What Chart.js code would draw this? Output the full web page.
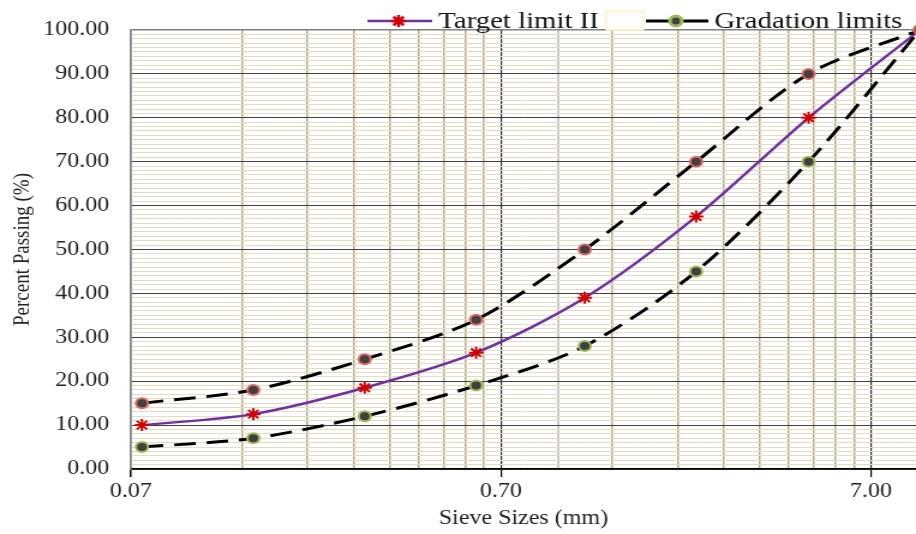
<!DOCTYPE html>
<html>
<head>
<meta charset="utf-8">
<script src="https://cdn.jsdelivr.net/npm/chart.js@4.4.0/dist/chart.umd.min.js"></script>
<style>
html, body { margin: 0; padding: 0; background: #fff; overflow: hidden; }
#grading { display: block; }
</style>
</head>
<body>
<!-- the original picture is stretched sideways, so the canvas is too -->
<canvas id="grading" width="763" height="534" style="width:916px;height:534px"></canvas>
<script>
// sieve sizes (mm) and percent passing
var sieveSizes = [0.075, 0.15, 0.3, 0.6, 1.18, 2.36, 4.75, 9.5];
var upperLimit = [15, 18, 25, 34, 50, 70, 90, 100];
var lowerLimit = [5, 7, 12, 19, 28, 45, 70, 100];
var targetLimit = [10, 12.5, 18.5, 26.5, 39, 57.5, 80, 100];

// tick labels
var xTickLabels = [0.07, 0.7, 7];
var yTickLabels = [0, 10, 20, 30, 40, 50, 60, 70, 80, 90, 100];

var xMin = 0.07, xMax = 9.27;   // the picture is cut off just before 9.5

function pairs(xs, ys) {
    return xs.map(function(x, i) { return { x: x, y: ys[i] }; });
}

// log grid: 1..9 times each labelled decade, plus a light line at 1.0
var xGrid = [];
xTickLabels.forEach(function(d) {
    for (var k = 1; k <= 9; k++) {
        var v = +(d * k).toFixed(3);
        if (v <= xMax) xGrid.push(v);
    }
});
xGrid.push(1);
xGrid.sort(function(a, b) { return a - b; });

var yGrid = [];
for (var i = 0; i <= 100; i++) yGrid.push(i);

var serif = 'Liberation Serif';

var legendPlugin = {
    id: 'sketchLegend',
    afterDraw: function(chart) {
        var c = chart.ctx;
        c.save();
        c.font = '24px "' + serif + '"';
        c.textBaseline = 'alphabetic';
        c.fillStyle = '#111';

        // Target limit II
        c.strokeStyle = '#7030a0';
        c.lineWidth = 2.5;
        c.beginPath(); c.moveTo(306, 21); c.lineTo(360, 21); c.stroke();
        c.strokeStyle = '#d00000';
        Chart.helpers.drawPoint(c, { pointStyle: 'star', radius: 6, borderWidth: 2, rotation: 0 }, 332, 21);
        c.fillText('Target limit II', 365, 28);

        // empty entry box
        c.fillStyle = '#fff';
        c.fillRect(505, 11, 31, 19);
        c.strokeStyle = '#fbf3c4';
        c.lineWidth = 1.5;
        c.strokeRect(505, 11, 31, 19);

        // Gradation limits
        c.strokeStyle = '#000';
        c.lineWidth = 3;
        c.beginPath(); c.moveTo(538, 21); c.lineTo(590, 21); c.stroke();
        c.fillStyle = '#404040';
        c.strokeStyle = '#9bbb59';
        Chart.helpers.drawPoint(c, { pointStyle: 'circle', radius: 5, borderWidth: 2, rotation: 0 }, 563, 21);
        c.fillStyle = '#111';
        c.fillText('Gradation limits', 595, 28);
        c.restore();
    }
};

var ctx = document.getElementById('grading').getContext('2d');
var chart = new Chart(ctx, {
    type: 'line',
    data: {
        datasets: [{
            label: 'Upper limit',
            data: pairs(sieveSizes, upperLimit),
            borderColor: '#000',
            borderWidth: 3,
            borderDash: [18, 9],
            tension: 0.3,
            pointRadius: 5,
            pointBorderWidth: 2,
            pointBackgroundColor: '#404040',
            pointBorderColor: '#e06666',
            clip: false
        }, {
            label: 'Gradation limits',
            data: pairs(sieveSizes, lowerLimit),
            borderColor: '#000',
            borderWidth: 3,
            borderDash: [18, 9],
            tension: 0.3,
            pointRadius: 5,
            pointBorderWidth: 2,
            pointBackgroundColor: '#404040',
            pointBorderColor: '#9bbb59',
            clip: false
        }, {
            label: 'Target limit II',
            data: pairs(sieveSizes, targetLimit),
            borderColor: '#7030a0',
            borderWidth: 2.5,
            tension: 0.3,
            pointStyle: 'star',
            pointRadius: 6,
            pointBorderWidth: 2,
            pointBorderColor: '#d00000',
            pointBackgroundColor: '#d00000',
            clip: false
        }]
    },
    options: {
        responsive: false,
        animation: false,
        layout: { autoPadding: false, padding: { top: 28, left: 0, right: 0, bottom: 0 } },
        plugins: {
            legend: { display: false },
            tooltip: { enabled: false }
        },
        scales: {
            x: {
                type: 'logarithmic',
                min: xMin,
                max: xMax,
                afterBuildTicks: function(scale) {
                    scale.ticks = xGrid.map(function(v) { return { value: v }; });
                },
                afterFit: function(scale) { scale.height = 65; },
                ticks: {
                    autoSkip: false,
                    maxRotation: 0,
                    padding: 3,
                    color: '#222',
                    font: { family: serif, size: 20 },
                    callback: function(v) {
                        return xTickLabels.indexOf(v) >= 0 ? v.toFixed(2) : '';
                    }
                },
                grid: {
                    tickLength: 8,
                    color: function(c) {
                        var v = c.tick ? c.tick.value : 0;
                        if (v === 0.07) return '#808080';
                        if (v === 0.7 || v === 7) return '#303030';
                        if (v === 1) return '#cacaca';
                        return '#b5ab7c';
                    },
                    lineWidth: function(c) {
                        var v = c.tick ? c.tick.value : 0;
                        if (v === 0.7 || v === 7) return 1.2;
                        if (v === 1) return 2;
                        return 1.5;
                    },
                    tickColor: function(c) {
                        var v = c.tick ? c.tick.value : 0;
                        return xTickLabels.indexOf(v) >= 0 ? '#000' : 'rgba(0,0,0,0)';
                    }
                },
                border: { color: '#000', width: 1.5 },
                title: {
                    display: true,
                    text: 'Sieve Sizes (mm)',
                    color: '#222',
                    font: { family: serif, size: 20 },
                    padding: { top: 0, bottom: 3 }
                }
            },
            y: {
                z: -1,
                min: 0,
                max: 100,
                afterBuildTicks: function(scale) {
                    scale.ticks = yGrid.map(function(v) { return { value: v }; });
                },
                afterFit: function(scale) { scale.width = 109; },
                ticks: {
                    autoSkip: false,
                    padding: 18,
                    color: '#222',
                    font: { family: serif, size: 20 },
                    callback: function(v) {
                        return yTickLabels.indexOf(v) >= 0 ? v.toFixed(2) : '';
                    }
                },
                grid: {
                    drawTicks: false,
                    color: function(c) {
                        var v = c.tick ? c.tick.value : 0;
                        if (v === 100) return '#808080';
                        if (v % 10 === 0) return '#404040';
                        return '#e4dcc6';
                    },
                    lineWidth: function(c) {
                        var v = c.tick ? c.tick.value : 0;
                        return v === 100 ? 1.5 : 1;
                    }
                },
                border: { color: '#808080', width: 1.5 },
                title: {
                    display: true,
                    text: 'Percent Passing (%)',
                    color: '#222',
                    font: { family: serif, size: 19 },
                    padding: { top: 8, bottom: 0 }
                }
            }
        }
    },
    plugins: [legendPlugin]
});
</script>
</body>
</html>
